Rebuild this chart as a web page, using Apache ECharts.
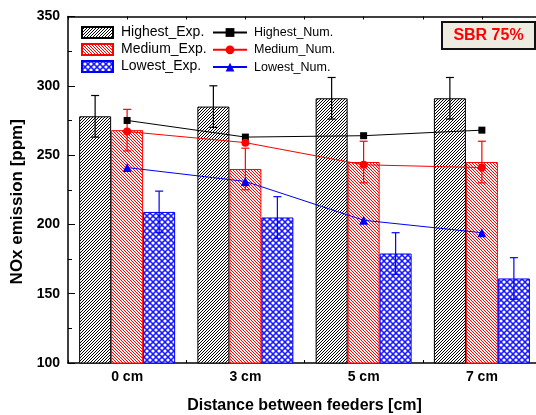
<!DOCTYPE html>
<html>
<head>
<meta charset="utf-8">
<script src="https://cdn.jsdelivr.net/npm/echarts@6/dist/echarts.min.js"></script>
<style>
html,body{margin:0;padding:0;background:#fff;}
#main{width:536px;height:415px;}
</style>
</head>
<body>
<div id="main"></div>
<script>
var categories = ['0 cm', '3 cm', '5 cm', '7 cm'];
var highestExp = [278, 285, 291, 291];
var mediumExp = [268, 240, 245, 245];
var lowestExp = [209, 205, 179, 161];
var highestErr = [15, 15, 15, 15];
var mediumErr = [15, 15, 15, 15];
var lowestErr = [15, 15, 15, 15];
var highestNum = [275, 263, 264, 268];
var mediumNum = [267, 259, 243, 241];
var lowestNum = [241, 231, 203, 194];
var yMin = 100, yMax = 350, yStep = 50;

var font = 'Liberation Sans, Arial, sans-serif';
var barW = 32;

// 斜线填充
function hatch(color, dir) {
	var c = document.createElement('canvas');
	c.width = 3; c.height = 3;
	var ctx = c.getContext('2d');
	ctx.fillStyle = '#fff';
	ctx.fillRect(0, 0, 3, 3);
	ctx.strokeStyle = color;
	ctx.lineWidth = 1;
	ctx.beginPath();
	if (dir > 0) {
		ctx.moveTo(-1, 4); ctx.lineTo(4, -1);
		ctx.moveTo(-1, 1); ctx.lineTo(1, -1);
		ctx.moveTo(2, 4); ctx.lineTo(4, 2);
	} else {
		ctx.moveTo(-1, -1); ctx.lineTo(4, 4);
		ctx.moveTo(2, -1); ctx.lineTo(4, 1);
		ctx.moveTo(-1, 2); ctx.lineTo(1, 4);
	}
	ctx.stroke();
	return {image: c, repeat: 'repeat'};
}
// 网格圆点填充
function dots(color) {
	var c = document.createElement('canvas');
	c.width = 6; c.height = 6;
	var ctx = c.getContext('2d');
	ctx.fillStyle = color;
	ctx.fillRect(0, 0, 6, 6);
	ctx.fillStyle = '#fff';
	var pts = [[0, 0], [6, 0], [0, 6], [6, 6], [3, 3]];
	for (var i = 0; i < pts.length; i++) {
		ctx.beginPath();
		ctx.arc(pts[i][0], pts[i][1], 1.6, 0, Math.PI * 2);
		ctx.fill();
	}
	return {image: c, repeat: 'repeat'};
}

function errData(vals, errs) {
	var out = [];
	for (var i = 0; i < vals.length; i++) {
		out.push([i, vals[i], errs[i]]);
	}
	return out;
}
function errRender(offset, color) {
	return function (params, api) {
		var x = api.coord([api.value(0), api.value(1)])[0] + offset;
		var top = api.coord([api.value(0), api.value(1) + api.value(2)])[1];
		var bot = api.coord([api.value(0), api.value(1) - api.value(2)])[1];
		var st = {stroke: color, lineWidth: 1.2};
		return {
			type: 'group',
			children: [
				{type: 'line', shape: {x1: x, y1: top, x2: x, y2: bot}, style: st},
				{type: 'line', shape: {x1: x - 4, y1: top, x2: x + 4, y2: top}, style: st},
				{type: 'line', shape: {x1: x - 4, y1: bot, x2: x + 4, y2: bot}, style: st}
			]
		};
	};
}

var myChart = echarts.init(document.getElementById('main'));
var option = {
	animation: false,
	backgroundColor: '#fff',
	textStyle: {fontFamily: font},
	//右边框在图外, 不要自动收缩
	grid: {left: 68, top: 16.5, width: 473, bottom: 52, show: false, outerBoundsMode: 'none'},
	legend: [{
		left: 81, top: 25.5, orient: 'vertical', padding: 0, icon: 'rect',
		itemWidth: 31, itemHeight: 11, itemGap: 3,
		textStyle: {fontSize: 14, color: '#000', padding: [0, 0, 0, 3], fontFamily: font},
		data: ['Highest_Exp.', 'Medium_Exp.', 'Lowest_Exp.']
	}, {
		left: 212, top: 26, orient: 'vertical', padding: 0,
		itemWidth: 34, itemHeight: 11, itemGap: 4.3,
		textStyle: {fontSize: 12.5, color: '#000', padding: [0, 0, 0, 2], fontFamily: font},
		data: ['Highest_Num.', 'Medium_Num.', 'Lowest_Num.']
	}],
	xAxis: [{
		type: 'category',
		data: categories,
		name: 'Distance between feeders [cm]',
		nameLocation: 'middle',
		nameGap: 35,
		nameTextStyle: {fontSize: 16, fontWeight: 'bold', color: '#000'},
		axisLine: {lineStyle: {color: '#000', width: 1.5}},
		axisTick: {show: false},
		axisLabel: {fontSize: 14, fontWeight: 'bold', color: '#000', margin: 7}
	}, {
		type: 'value', position: 'top', min: 0, max: 4, interval: 0.5,
		axisLine: {show: true, onZero: false, lineStyle: {color: '#000', width: 1.5}},
		axisTick: {inside: true, length: 3, lineStyle: {color: '#000'}},
		axisLabel: {show: false}, splitLine: {show: false}
	}, {
		type: 'value', position: 'bottom', min: 0, max: 4, interval: 0.5,
		axisLine: {show: false},
		axisTick: {inside: true, length: 3, lineStyle: {color: '#000'}},
		axisLabel: {show: false}, splitLine: {show: false}
	}],
	yAxis: {
		type: 'value',
		min: yMin, max: yMax, interval: yStep,
		name: 'NOx emission [ppm]',
		nameLocation: 'middle',
		nameGap: 40,
		nameTextStyle: {fontSize: 17, fontWeight: 'bold', color: '#000', padding: [0, 24, 0, 0]},
		axisLine: {show: true, lineStyle: {color: '#000', width: 1.5}},
		axisTick: {inside: true, length: 7, lineStyle: {color: '#000'}},
		minorTick: {show: true, splitNumber: 2, length: 4, lineStyle: {color: '#000'}},
		splitLine: {show: false},
		axisLabel: {fontSize: 14, fontWeight: 'bold', color: '#000', margin: 8}
	},
	series: [{
		name: 'Highest_Exp.', type: 'bar', barWidth: barW, barGap: '0%',
		itemStyle: {color: hatch('#000', 1), borderColor: '#000', borderWidth: 1},
		data: highestExp
	}, {
		name: 'Medium_Exp.', type: 'bar', barWidth: barW, barGap: '0%',
		itemStyle: {color: hatch('#ff0000', -1), borderColor: '#ff0000', borderWidth: 1},
		data: mediumExp
	}, {
		name: 'Lowest_Exp.', type: 'bar', barWidth: barW, barGap: '0%',
		itemStyle: {color: dots('#1a1aff'), borderColor: '#0000ff', borderWidth: 1},
		data: lowestExp
	}, {
		type: 'custom', renderItem: errRender(-barW, '#000'),
		encode: {x: 0, y: 1}, data: errData(highestExp, highestErr), z: 3
	}, {
		type: 'custom', renderItem: errRender(0, '#ff0000'),
		encode: {x: 0, y: 1}, data: errData(mediumExp, mediumErr), z: 3
	}, {
		type: 'custom', renderItem: errRender(barW, '#0000ff'),
		encode: {x: 0, y: 1}, data: errData(lowestExp, lowestErr), z: 3
	}, {
		name: 'Highest_Num.', type: 'line', symbol: 'rect', symbolSize: 7,
		itemStyle: {color: '#000'}, lineStyle: {color: '#000', width: 1}, z: 4,
		data: highestNum
	}, {
		name: 'Medium_Num.', type: 'line', symbol: 'circle', symbolSize: 8,
		itemStyle: {color: '#ff0000'}, lineStyle: {color: '#ff0000', width: 1}, z: 4,
		data: mediumNum
	}, {
		name: 'Lowest_Num.', type: 'line', symbol: 'triangle', symbolSize: 9,
		itemStyle: {color: '#0000ff'}, lineStyle: {color: '#0000ff', width: 1}, z: 4,
		data: lowestNum
	}],
	graphic: [{
		type: 'group', left: 441, top: 21,
		children: [{
			type: 'rect', shape: {x: 0, y: 0, width: 93, height: 27},
			style: {fill: '#eeece1', stroke: '#111', lineWidth: 2}
		}, {
			type: 'text', x: 46.5, y: 13.5,
			style: {text: 'SBR 75%', fill: '#ff0000', font: 'bold 16px ' + font, align: 'center', verticalAlign: 'middle'}
		}]
	}]
};
myChart.setOption(option);
</script>
</body>
</html>
